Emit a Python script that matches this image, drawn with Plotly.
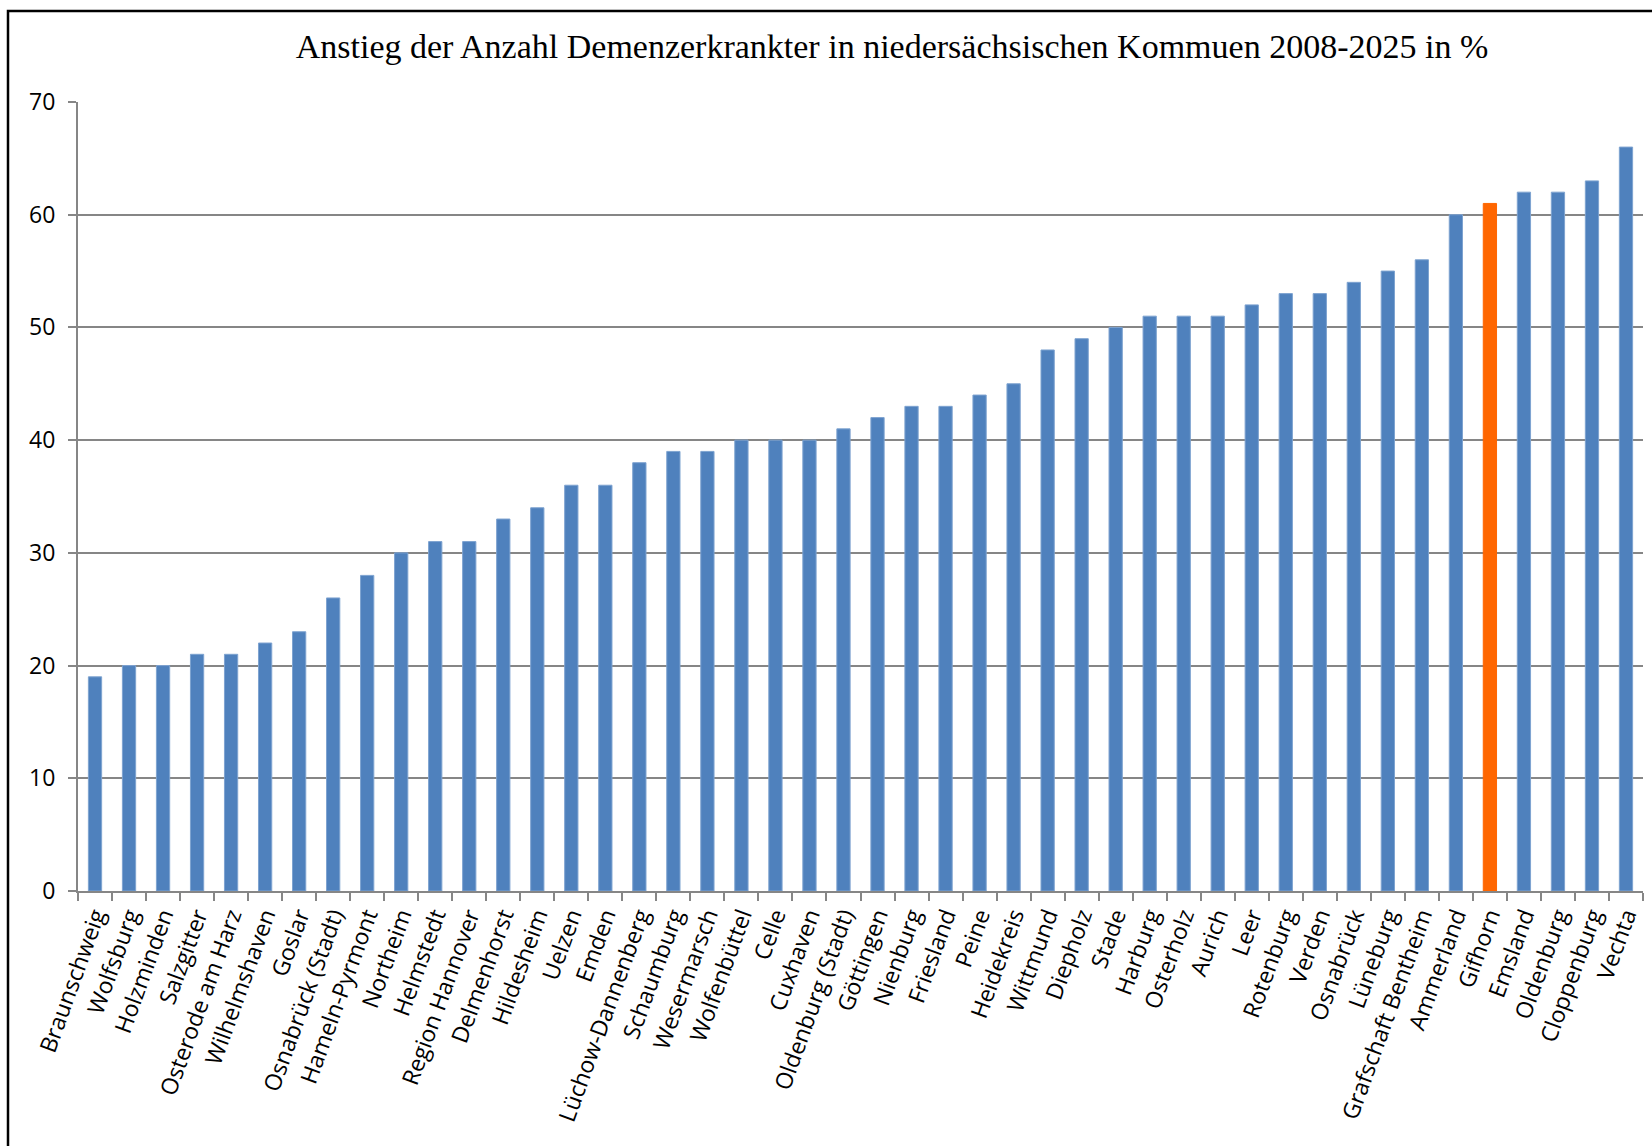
import plotly.graph_objects as go

kommunen = ["Braunschweig", "Wolfsburg", "Holzminden", "Salzgitter", "Osterode am Harz",
            "Wilhelmshaven", "Goslar", "Osnabrück (Stadt)", "Hameln-Pyrmont", "Northeim",
            "Helmstedt", "Region Hannover", "Delmenhorst", "Hildesheim", "Uelzen", "Emden",
            "Lüchow-Dannenberg", "Schaumburg", "Wesermarsch", "Wolfenbüttel", "Celle",
            "Cuxhaven", "Oldenburg (Stadt)", "Göttingen", "Nienburg", "Friesland", "Peine",
            "Heidekreis", "Wittmund", "Diepholz", "Stade", "Harburg", "Osterholz", "Aurich",
            "Leer", "Rotenburg", "Verden", "Osnabrück", "Lüneburg", "Grafschaft Bentheim",
            "Ammerland", "Gifhorn", "Emsland", "Oldenburg", "Cloppenburg", "Vechta"]
anstieg = [19, 20, 20, 21, 21, 22, 23, 26, 28, 30, 31, 31, 33, 34, 36, 36, 38, 39, 39, 40,
           40, 40, 41, 42, 43, 43, 44, 45, 48, 49, 50, 51, 51, 51, 52, 53, 53, 54, 55, 56,
           60, 61, 62, 62, 63, 66]
hervorgehoben = "Gifhorn"
y_ticks = [0, 10, 20, 30, 40, 50, 60, 70]

colors = ["#FF6600" if k == hervorgehoben else "#4F81BD" for k in kommunen]
line_colors = ["#FF6600" if k == hervorgehoben else "#7EA3D0" for k in kommunen]

fig = go.Figure(go.Bar(
    x=kommunen, y=anstieg,
    marker=dict(color=colors, line=dict(color=line_colors, width=1)),
))

W, H = 1652, 1146
L, R, T, B = 78, 9, 102, 255

fig.update_layout(
    width=W, height=H,
    margin=dict(l=L, r=R, t=T, b=B, pad=0),
    paper_bgcolor="white", plot_bgcolor="white",
    bargap=0.61,
    showlegend=False,
    title=dict(
        text="Anstieg der Anzahl Demenzerkrankter in niedersächsischen Kommuen 2008-2025 in %",
        font=dict(family="Liberation Serif", size=34, color="black"),
        x=892 / W, xanchor="center", xref="container",
        y=1 - 46 / H, yanchor="middle", yref="container",
    ),
    font=dict(family="Open Sans", color="black"),
)

fig.update_xaxes(
    type="category",
    tickangle=-70,
    tickfont=dict(family="Open Sans", size=23, color="black"),
    showline=True, linecolor="#868686", linewidth=2,
    ticks="outside", tickson="boundaries", ticklen=8, tickcolor="#868686", tickwidth=2,
    showgrid=False,
)
fig.update_yaxes(
    range=[0, 70],
    tickvals=y_ticks,
    tickfont=dict(family="Open Sans", size=23, color="black"),
    showline=True, linecolor="#868686", linewidth=2,
    ticks="outside", ticklen=8, tickcolor="#868686", tickwidth=2,
    ticklabelstandoff=8,
    showgrid=True, gridcolor="#868686", gridwidth=1.5,
    zeroline=False,
)

# outer chart border (extends beyond the visible frame on the right and bottom)
fig.add_shape(
    type="rect", xref="paper", yref="paper",
    x0=(8 - L) / (W - L - R), x1=(W + 20 - L) / (W - L - R),
    y0=-(H + 20 - (H - B)) / (H - T - B), y1=1 + (T - 11) / (H - T - B),
    line=dict(color="black", width=2.5), fillcolor="rgba(0,0,0,0)", layer="above",
)

fig.write_html("out.html")
